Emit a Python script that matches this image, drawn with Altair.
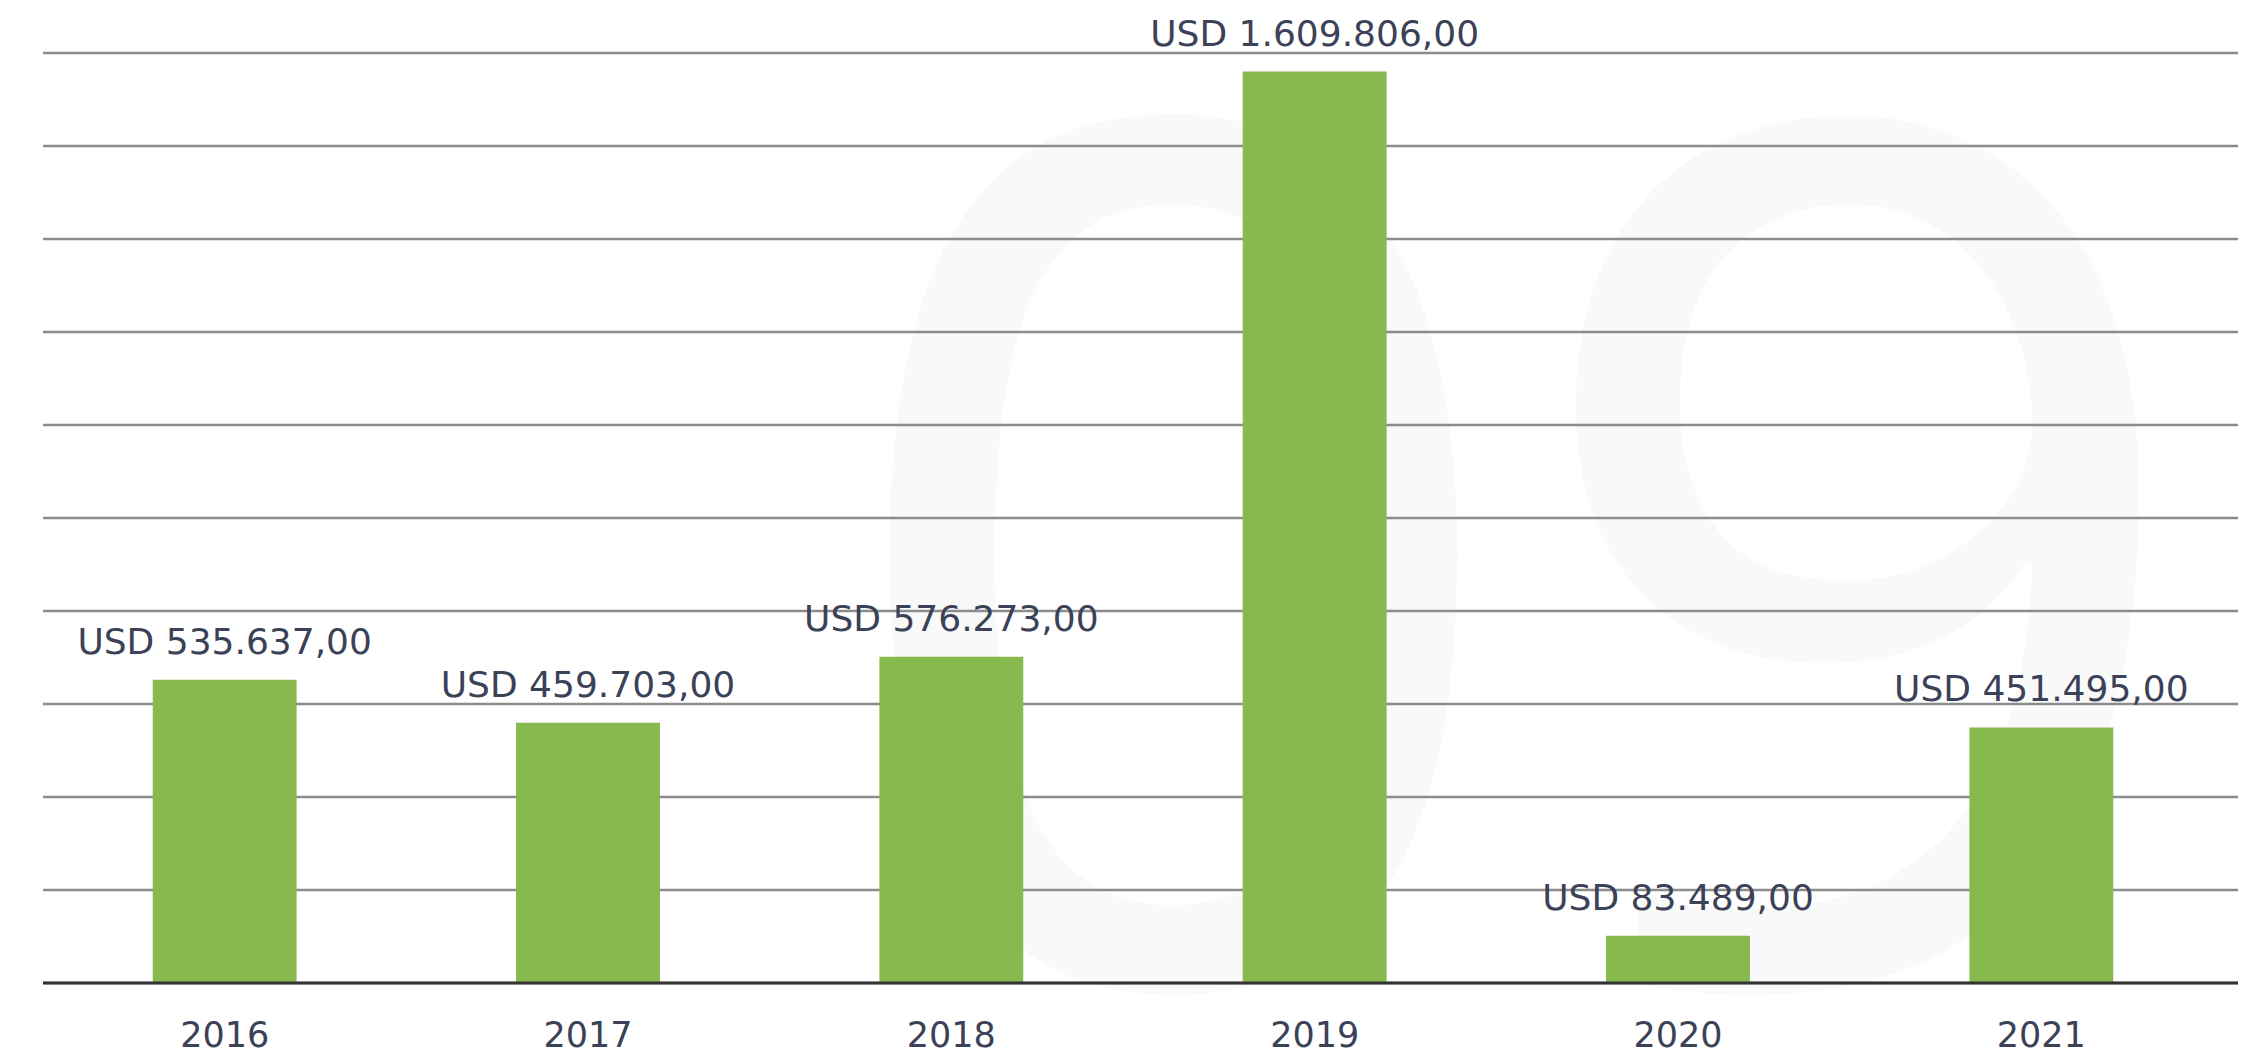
import altair as alt
import pandas as pd

years = ["2016", "2017", "2018", "2019", "2020", "2021"]
values = [535637, 459703, 576273, 1609806, 83489, 451495]


def usd(v):
    s = format(v, ",.2f").replace(",", "X").replace(".", ",").replace("X", ".")
    return "USD " + s


labels = [usd(v) for v in values]

y_max = 1642700
grid_values = [y_max * i / 10 for i in range(11)]

df = pd.DataFrame({"year": years, "value": values, "label": labels})
grid_df = pd.DataFrame({"g": grid_values})

TEXT = "#3b4157"
FONT = "DejaVu Sans"

x_enc = alt.X(
    "year:N",
    sort=years,
    title=None,
    scale=alt.Scale(range=[0, 2180], paddingInner=0.604, paddingOuter=0.302),
    axis=alt.Axis(
        labelAngle=0,
        labelFontSize=35,
        labelColor=TEXT,
        labelFont=FONT,
        labelPadding=35,
        ticks=False,
        domain=False,
        grid=False,
    ),
)
y_scale = alt.Scale(domain=[0, y_max], nice=False, zero=True)
y_enc = alt.Y("value:Q", scale=y_scale, axis=None)

watermark = alt.Chart(pd.DataFrame({"t": ["09"]})).mark_text(
    font="Noto Sans", fontSize=1198, color="#f9f9f9", baseline="alphabetic", align="center"
).encode(text="t:N", x=alt.value(1473), y=alt.value(930))

grid = alt.Chart(grid_df).mark_rule(color="#8c8c8c", strokeWidth=2.5).encode(
    y=alt.Y("g:Q", scale=y_scale, axis=None)
)

bars = alt.Chart(df).mark_bar(color="#88b94f").encode(x=x_enc, y=y_enc)

text = alt.Chart(df).mark_text(
    font=FONT, fontSize=36, color=TEXT, dy=-37, baseline="middle"
).encode(x=alt.X("year:N", sort=years), y=y_enc, text="label:N")

baseline = alt.Chart(pd.DataFrame({"z": [0]})).mark_rule(
    color="#333333", strokeWidth=3
).encode(y=alt.Y("z:Q", scale=y_scale, axis=None))

chart = (
    alt.layer(watermark, grid, bars, baseline, text)
    .properties(
        width=2195,
        height=930,
        padding={"left": 35, "top": 45, "right": 8, "bottom": 71},
        autosize=alt.AutoSizeParams(type="none"),
        background="white",
    )
    .configure_view(stroke=None)
)

chart.save("out.html", embed_options={"renderer": "svg", "actions": False})
